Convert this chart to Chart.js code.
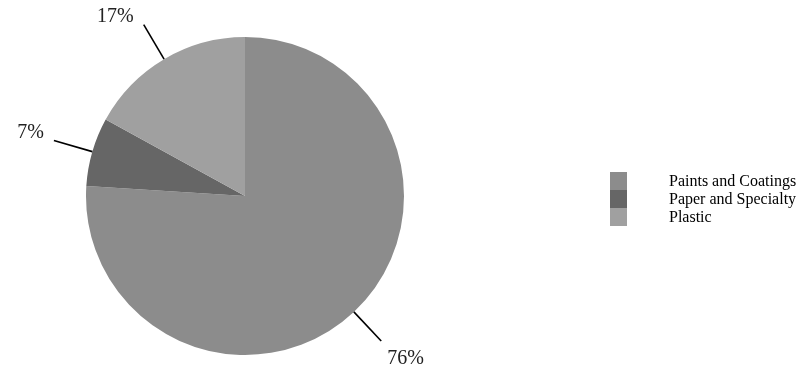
<!DOCTYPE html>
<html>
<head>
<meta charset="utf-8">
<script src="https://cdn.jsdelivr.net/npm/chart.js@4/dist/chart.umd.min.js"></script>
<style>
  body { margin: 0; background: #fff; }
  #wrap { position: relative; width: 796px; height: 386px; }
  #legend { position: absolute; left: 610px; top: 172px; font-family: "Liberation Serif", "Times New Roman", serif; font-size: 16px; color: #000; white-space: nowrap; }
  .item { display: flex; align-items: center; height: 18px; }
  .box { width: 17px; height: 18px; margin-right: 42px; flex: none; }
</style>
</head>
<body>
<div id="wrap">
  <canvas id="grafico" width="796" height="386"></canvas>
  <div id="legend"></div>
</div>
<script>
const categorias = ["Paints and Coatings", "Paper and Specialty", "Plastic"];
const porcentajes = [76, 7, 17];
const colores = ["#8c8c8c", "#666666", "#a0a0a0"];

// etiquetas con linea guia fuera del pastel
const etiquetasFuera = {
    id: "etiquetasFuera",
    afterDatasetsDraw(chart) {
        const ctx = chart.ctx;
        const meta = chart.getDatasetMeta(0);
        ctx.save();
        ctx.font = "20px 'Liberation Serif', 'Times New Roman', serif";
        ctx.fillStyle = "#222";
        ctx.strokeStyle = "#000";
        ctx.lineWidth = 1.6;
        meta.data.forEach((arc, i) => {
            const ang = (arc.startAngle + arc.endAngle) / 2;
            const cx = arc.x, cy = arc.y, r = arc.outerRadius;
            const x1 = cx + Math.cos(ang) * r, y1 = cy + Math.sin(ang) * r;
            const x2 = cx + Math.cos(ang) * (r + 40), y2 = cy + Math.sin(ang) * (r + 40);
            ctx.beginPath();
            ctx.moveTo(x1, y1);
            ctx.lineTo(x2, y2);
            ctx.stroke();
            const izq = x2 < cx;
            ctx.textAlign = izq ? "right" : "left";
            ctx.textBaseline = "middle";
            const tx = izq ? x2 - 10 : x2 + 6;
            const ty = y2 < cy ? y2 - 8 : y2 + 18;
            ctx.fillText(porcentajes[i] + "%", tx, ty);
        });
        ctx.restore();
    }
};

new Chart(document.getElementById("grafico"), {
    type: "pie",
    data: {
        labels: categorias,
        datasets: [{
            data: porcentajes,
            backgroundColor: colores,
            borderWidth: 0
        }]
    },
    options: {
        responsive: false,
        animation: false,
        layout: { padding: { left: 86, right: 392, top: 37, bottom: 31 } },
        plugins: {
            legend: { display: false },
            tooltip: { enabled: false }
        }
    },
    plugins: [etiquetasFuera]
});

let html = "";
categorias.forEach((c, i) => {
    html += `<div class="item"><div class="box" style="background:${colores[i]}"></div><span>${c}</span></div>`;
});
document.getElementById("legend").innerHTML = html;
</script>
</body>
</html>
